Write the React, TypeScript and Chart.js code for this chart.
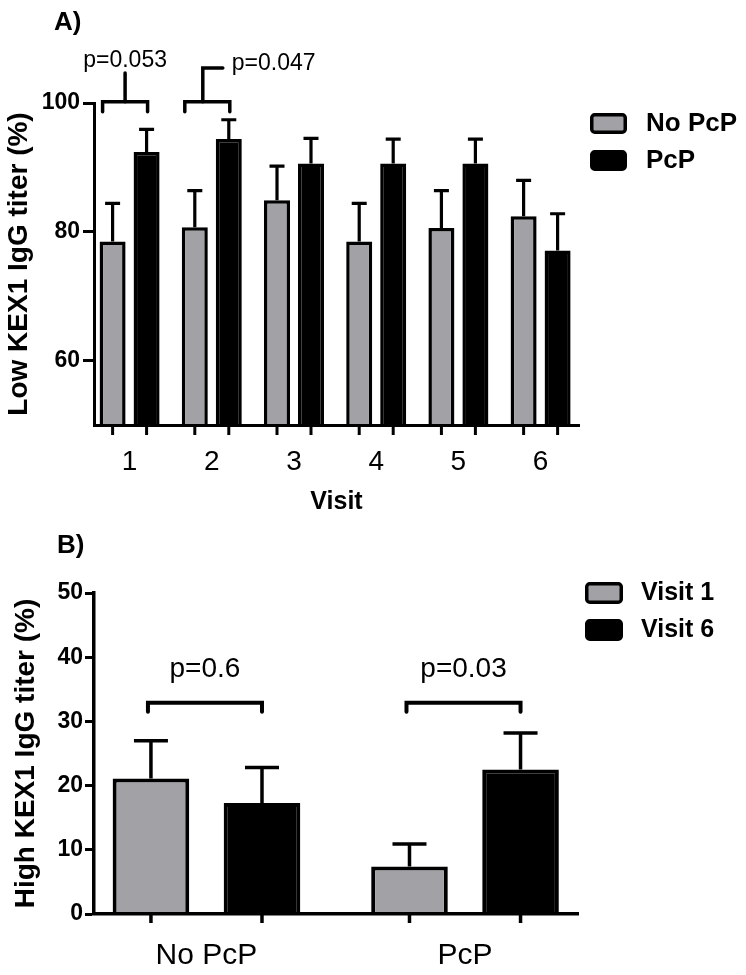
import React, { useEffect, useRef } from "react";
import { Chart, registerables } from "chart.js";

Chart.register(...registerables);

const FONT = "'Liberation Sans', Arial, Helvetica, sans-serif";
const GRAY = "#a1a1a6";
const BLACK = "#000000";

// ---------- Panel A data ----------
const visitLabelsA = ["1", "2", "3", "4", "5", "6"];
const visitPosA = [1, 2, 3, 4, 5, 6];
const noPcPA = [78.5, 80.7, 84.9, 78.5, 80.6, 82.4];
const noPcPErrA = [5.9, 5.7, 5.3, 5.9, 5.8, 5.6];
const pcpA = [92.4, 94.4, 90.6, 90.6, 90.6, 77.1];
const pcpErrA = [3.5, 3.0, 3.9, 3.8, 3.8, 5.7];
const yTicksA = [60, 80, 100];
const seriesNamesA = ["No PcP", "PcP"];
const pGroupsA = [0, 1];
const pLabelsA = ["p=0.053", "p=0.047"];
const pStylesA = ["top", "side"];

// ---------- Panel B data ----------
const groupLabelsB = ["No PcP", "PcP"];
const groupPosB = [1, 2];
const visit1B = [21.1, 7.4];
const visit1ErrB = [5.9, 3.5];
const visit6B = [17.3, 22.5];
const visit6ErrB = [5.5, 5.7];
const yTicksB = [0, 10, 20, 30, 40, 50];
const seriesNamesB = ["Visit 1", "Visit 6"];
const pGroupsB = [0, 1];
const pLabelsB = ["p=0.6", "p=0.03"];
const pStylesB = ["plain", "plain"];

type Spec = {
  id: string;
  letter: string;
  letterX: number;
  letterY: number;
  values: number[][];
  errors: number[][];
  names: string[];
  colors: string[];
  errWidth: number;
  capW: number;
  tickLen: number;
  tickWidth: number;
  bracketY: number;
  bracketWidth: number;
  legLen: number;
  leftShift: number;
  rightShift: number;
  stemLen: number;
  sideStemLen: number;
  textGap: number;
  textY: number;
  pFont: number;
  pGroups: number[];
  pLabels: string[];
  pStyles: string[];
  legendX: number;
  legendY: number[];
  legendW: number;
  legendH: number;
  legendTextX: number;
  legendFont: number;
};

function decorPlugin(spec: Spec) {
  return {
    id: "decor" + spec.id,
    afterDatasetsDraw(chart: any) {
      const { ctx, chartArea } = chart;
      const ys = chart.scales.y;
      ctx.save();
      ctx.strokeStyle = BLACK;
      ctx.lineCap = "butt";
      chart.data.datasets.forEach((_ds: any, di: number) => {
        const meta = chart.getDatasetMeta(di);
        meta.data.forEach((bar: any, i: number) => {
          const top = ys.getPixelForValue(spec.values[di][i] + spec.errors[di][i]);
          ctx.lineWidth = spec.errWidth;
          ctx.beginPath();
          ctx.moveTo(bar.x, bar.y);
          ctx.lineTo(bar.x, top);
          ctx.moveTo(bar.x - spec.capW / 2, top);
          ctx.lineTo(bar.x + spec.capW / 2, top);
          ctx.stroke();
          ctx.lineWidth = spec.tickWidth;
          ctx.beginPath();
          ctx.moveTo(bar.x, chartArea.bottom);
          ctx.lineTo(bar.x, chartArea.bottom + spec.tickLen);
          ctx.stroke();
        });
      });
      ctx.restore();
    },
    afterDraw(chart: any) {
      const { ctx } = chart;
      const ys = chart.scales.y;
      ctx.save();
      ctx.strokeStyle = BLACK;
      ctx.fillStyle = BLACK;
      // panel letter
      ctx.font = `bold 26px ${FONT}`;
      ctx.textAlign = "left";
      ctx.textBaseline = "alphabetic";
      ctx.fillText(spec.letter, spec.letterX, spec.letterY);

      // significance brackets
      spec.pGroups.forEach((g, k) => {
        const b0 = chart.getDatasetMeta(0).data[g];
        const b1 = chart.getDatasetMeta(1).data[g];
        const by = ys.getPixelForValue(spec.bracketY);
        const lx = b0.x - spec.leftShift;
        const rx = b1.x + spec.rightShift;
        ctx.lineWidth = spec.bracketWidth;
        ctx.lineCap = "round";
        ctx.lineJoin = "miter";
        ctx.beginPath();
        ctx.moveTo(lx, by + spec.legLen);
        ctx.lineTo(lx, by);
        ctx.lineTo(rx, by);
        ctx.lineTo(rx, by + spec.legLen);
        ctx.stroke();
        ctx.font = `${spec.pFont}px ${FONT}`;
        ctx.textBaseline = "middle";
        const style = spec.pStyles[k];
        if (style === "top") {
          const mx = (lx + rx) / 2;
          ctx.beginPath();
          ctx.moveTo(mx, by);
          ctx.lineTo(mx, by - spec.stemLen);
          ctx.stroke();
          ctx.textAlign = "center";
          ctx.fillText(spec.pLabels[k], mx, by - spec.stemLen - spec.textGap);
        } else if (style === "side") {
          const sx = lx + 0.4 * (rx - lx);
          const sy = by - spec.sideStemLen;
          ctx.beginPath();
          ctx.moveTo(sx, by);
          ctx.lineTo(sx, sy);
          ctx.lineTo(sx + 20, sy);
          ctx.stroke();
          ctx.textAlign = "left";
          ctx.fillText(spec.pLabels[k], sx + 29, sy - 4.5);
        } else {
          ctx.textAlign = "center";
          ctx.fillText(spec.pLabels[k], (lx + rx) / 2, ys.getPixelForValue(spec.textY));
        }
      });

      // legend
      spec.names.forEach((name, i) => {
        const x = spec.legendX;
        const y = spec.legendY[i];
        const lw = 3.5;
        ctx.beginPath();
        const rr = (ctx as any).roundRect ? true : false;
        if (rr) {
          (ctx as any).roundRect(x + lw / 2, y + lw / 2, spec.legendW - lw, spec.legendH - lw, 3);
        } else {
          ctx.rect(x + lw / 2, y + lw / 2, spec.legendW - lw, spec.legendH - lw);
        }
        ctx.fillStyle = spec.colors[i];
        ctx.fill();
        ctx.lineWidth = lw;
        ctx.lineJoin = "round";
        ctx.strokeStyle = BLACK;
        ctx.stroke();
        ctx.fillStyle = BLACK;
        ctx.font = `bold ${spec.legendFont}px ${FONT}`;
        ctx.textAlign = "left";
        ctx.textBaseline = "middle";
        ctx.fillText(name, spec.legendTextX, y + spec.legendH / 2);
      });
      ctx.restore();
    },
  };
}

function buildChart(
  canvas: HTMLCanvasElement,
  opts: {
    pos: number[];
    labels: string[];
    s0: number[];
    s1: number[];
    names: string[];
    xMin: number;
    xMax: number;
    yMin: number;
    yMax: number;
    yTicks: number[];
    yTitle: string;
    yTitlePad: number;
    xTitle: string | null;
    xHeight: number;
    xLabelFont: number;
    xLabelPad: number;
    padTop: number;
    padRight: number;
    catPct: number;
    barPct: number;
    borderW: number;
    axisW: number;
    yTickLen: number;
    yTickPad: number;
    spec: Spec;
  }
) {
  const mk = (vals: number[]) => opts.pos.map((x, i) => ({ x, y: vals[i] }));
  return new Chart(canvas, {
    type: "bar",
    data: {
      datasets: [
        {
          label: opts.names[0],
          data: mk(opts.s0) as any,
          backgroundColor: GRAY,
          borderColor: BLACK,
          borderWidth: opts.borderW,
          base: opts.yMin,
          categoryPercentage: opts.catPct,
          barPercentage: opts.barPct,
        },
        {
          label: opts.names[1],
          data: mk(opts.s1) as any,
          backgroundColor: BLACK,
          borderColor: BLACK,
          borderWidth: opts.borderW,
          base: opts.yMin,
          categoryPercentage: opts.catPct,
          barPercentage: opts.barPct,
        },
      ],
    },
    options: {
      animation: false,
      responsive: false,
      devicePixelRatio: 1,
      layout: { padding: { left: 0, right: opts.padRight, top: opts.padTop, bottom: 0 } },
      plugins: {
        legend: { display: false },
        tooltip: { enabled: false },
        title: { display: false },
      },
      scales: {
        x: {
          type: "linear",
          offset: false,
          min: opts.xMin,
          max: opts.xMax,
          grid: { display: false, drawTicks: false },
          border: { display: true, color: BLACK, width: opts.axisW, z: 1 },
          afterBuildTicks: (scale: any) => {
            scale.ticks = opts.pos.map((v) => ({ value: v }));
          },
          afterFit: (scale: any) => {
            scale.height = opts.xHeight;
          },
          ticks: {
            autoSkip: false,
            maxRotation: 0,
            padding: opts.xLabelPad,
            color: BLACK,
            font: { family: FONT, size: opts.xLabelFont },
            callback: (v: any) => {
              const i = opts.pos.indexOf(Number(v));
              return i >= 0 ? opts.labels[i] : "";
            },
          },
          title: opts.xTitle
            ? {
                display: true,
                text: opts.xTitle,
                color: BLACK,
                font: { family: FONT, size: 25, weight: "bold" },
                padding: { top: 0, bottom: 3 },
              }
            : { display: false },
        },
        y: {
          type: "linear",
          min: opts.yMin,
          max: opts.yMax,
          grid: {
            display: true,
            drawOnChartArea: false,
            drawTicks: true,
            tickLength: opts.yTickLen,
            tickWidth: 3,
            tickColor: BLACK,
            color: BLACK,
          },
          border: { display: true, color: BLACK, width: opts.axisW, z: 1 },
          afterBuildTicks: (scale: any) => {
            scale.ticks = opts.yTicks.map((v) => ({ value: v }));
          },
          afterFit: (scale: any) => {
            scale.width = 94;
          },
          ticks: {
            padding: opts.yTickPad,
            color: BLACK,
            font: { family: FONT, size: 23, weight: "bold" },
            callback: (v: any) => String(v),
          },
          title: {
            display: true,
            text: opts.yTitle,
            color: BLACK,
            font: { family: FONT, size: 28, weight: "bold" },
            padding: { top: opts.yTitlePad, bottom: 0 },
          },
        },
      },
    } as any,
    plugins: [decorPlugin(opts.spec) as any],
  });
}

export default function App() {
  const refA = useRef<HTMLCanvasElement | null>(null);
  const refB = useRef<HTMLCanvasElement | null>(null);

  useEffect(() => {
    const specA: Spec = {
      id: "A",
      letter: "A)",
      letterX: 54,
      letterY: 30,
      values: [noPcPA, pcpA],
      errors: [noPcPErrA, pcpErrA],
      names: seriesNamesA,
      colors: [GRAY, BLACK],
      errWidth: 3.2,
      capW: 15,
      tickLen: 10,
      tickWidth: 3,
      bracketY: 100.2,
      bracketWidth: 3.5,
      legLen: 10,
      leftShift: 10,
      rightShift: 1,
      stemLen: 28.7,
      sideStemLen: 33.7,
      textGap: 12,
      textY: 0,
      pFont: 23,
      pGroups: pGroupsA,
      pLabels: pLabelsA,
      pStyles: pStylesA,
      legendX: 590,
      legendY: [113, 150],
      legendW: 37,
      legendH: 21,
      legendTextX: 646,
      legendFont: 26,
    };
    const specB: Spec = {
      id: "B",
      letter: "B)",
      letterX: 57,
      letterY: 33,
      values: [visit1B, visit6B],
      errors: [visit1ErrB, visit6ErrB],
      names: seriesNamesB,
      colors: [GRAY, BLACK],
      errWidth: 3.5,
      capW: 34,
      tickLen: 9,
      tickWidth: 3.5,
      bracketY: 32.9,
      bracketWidth: 4,
      legLen: 9,
      leftShift: 3,
      rightShift: 0,
      stemLen: 0,
      sideStemLen: 0,
      textGap: 0,
      textY: 38.1,
      pFont: 28,
      pGroups: pGroupsB,
      pLabels: pLabelsB,
      pStyles: pStylesB,
      legendX: 585,
      legendY: [62, 99],
      legendW: 38,
      legendH: 22,
      legendTextX: 641,
      legendFont: 25,
    };
    const a = buildChart(refA.current as HTMLCanvasElement, {
      pos: visitPosA,
      labels: visitLabelsA,
      s0: noPcPA,
      s1: pcpA,
      names: seriesNamesA,
      xMin: 0.567,
      xMax: 6.467,
      yMin: 50,
      yMax: 100,
      yTicks: yTicksA,
      yTitle: "Low KEX1 IgG titer (%)",
      yTitlePad: 2,
      xTitle: "Visit",
      xHeight: 95,
      xLabelFont: 28,
      xLabelPad: 20,
      padTop: 103,
      padRight: 167,
      catPct: 0.827,
      barPct: 0.765,
      borderW: 3.5,
      axisW: 3,
      yTickLen: 11,
      yTickPad: 3,
      spec: specA,
    });
    const b = buildChart(refB.current as HTMLCanvasElement, {
      pos: groupPosB,
      labels: groupLabelsB,
      s0: visit1B,
      s1: visit6B,
      names: seriesNamesB,
      xMin: 0.565,
      xMax: 2.437,
      yMin: 0,
      yMax: 50,
      yTicks: yTicksB,
      yTitle: "High KEX1 IgG titer (%)",
      yTitlePad: 9.6,
      xTitle: null,
      xHeight: 61,
      xLabelFont: 30,
      xLabelPad: 24,
      padTop: 73,
      padRight: 168,
      catPct: 0.859,
      barPct: 0.69,
      borderW: 4,
      axisW: 3.5,
      yTickLen: 9,
      yTickPad: 2,
      spec: specB,
    });
    return () => {
      a.destroy();
      b.destroy();
    };
  }, []);

  return (
    <div style={{ position: "absolute", left: 0, top: 0, width: 746, height: 975, background: "#fff" }}>
      <canvas
        ref={refA}
        width={746}
        height={520}
        style={{ position: "absolute", left: 0, top: 0, width: 746, height: 520, display: "block" }}
      />
      <canvas
        ref={refB}
        width={746}
        height={455}
        style={{ position: "absolute", left: 0, top: 520, width: 746, height: 455, display: "block" }}
      />
    </div>
  );
}
